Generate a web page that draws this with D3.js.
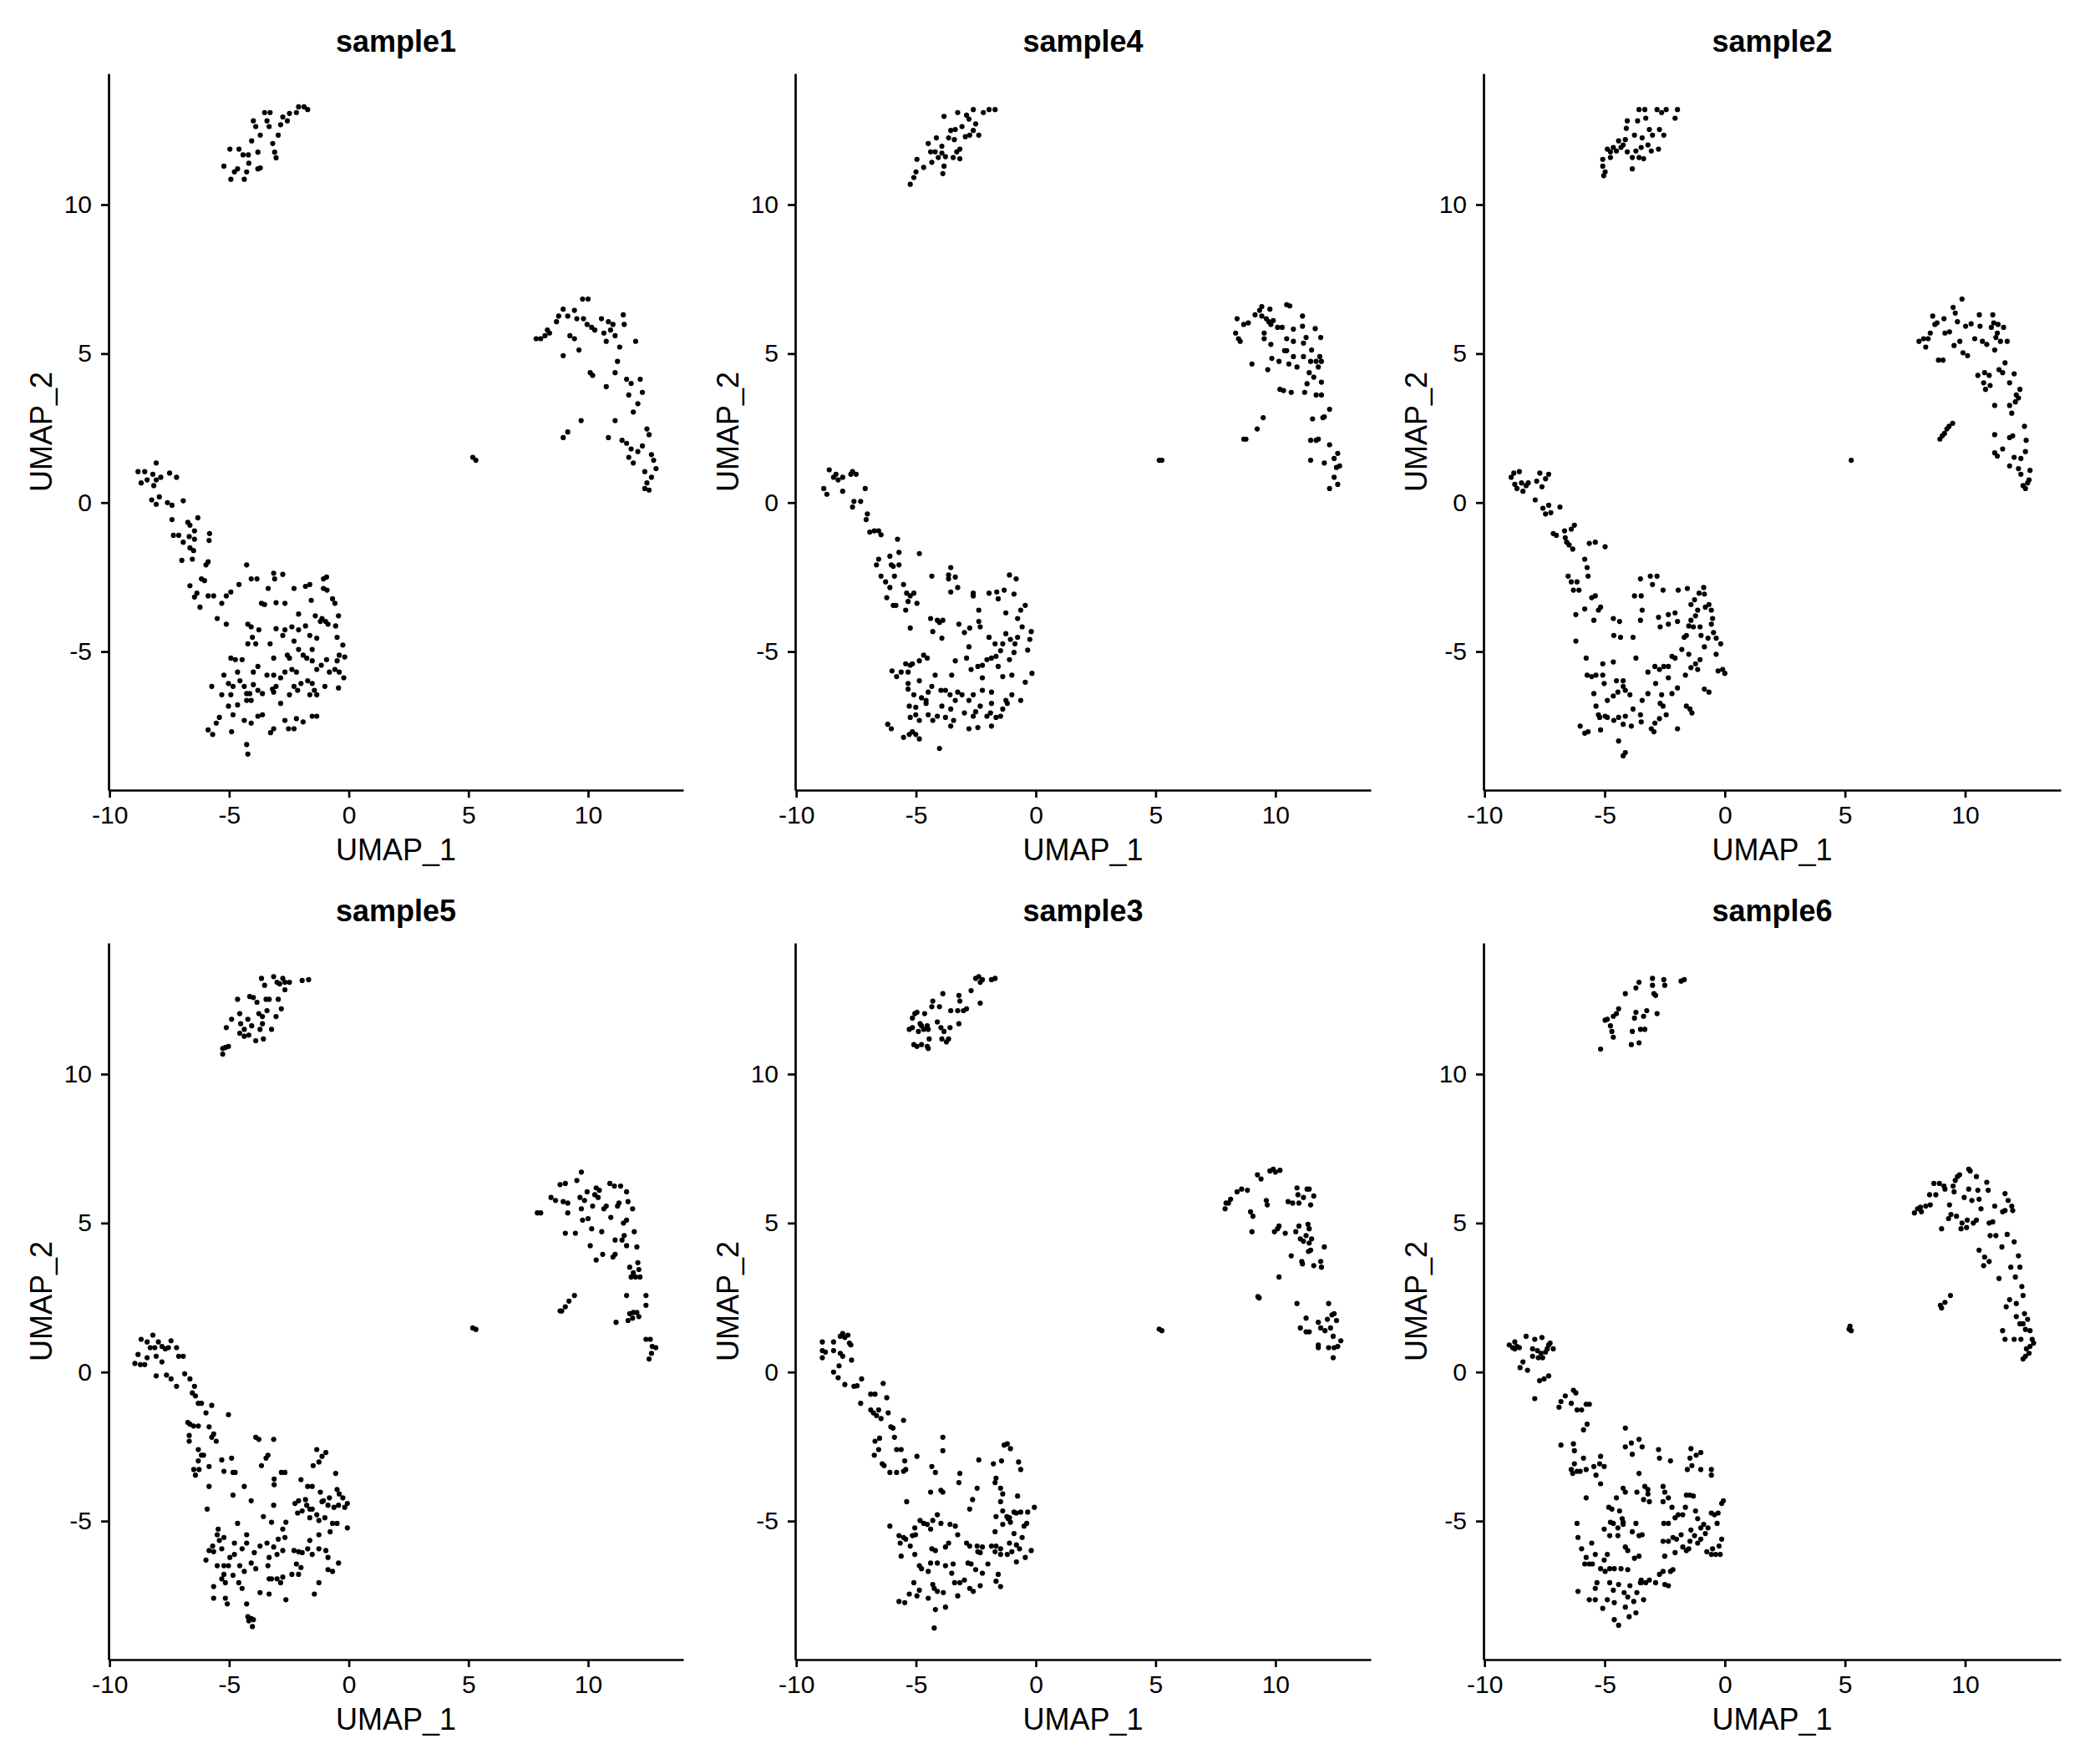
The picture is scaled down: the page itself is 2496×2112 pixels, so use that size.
<!DOCTYPE html>
<html>
<head>
<meta charset="utf-8">
<script src="https://cdn.jsdelivr.net/npm/d3@7"></script>
<style>
  body { margin: 0; background: #fff; }
  svg { display: block; }
  text { font-family: "Liberation Sans", Arial, Helvetica, sans-serif; }
</style>
</head>
<body>
<svg id="chart" width="2496" height="2112"></svg>
<script>
// Tick values and axis ranges (UMAP units)
const xTicks = [-10, -5, 0, 5, 10];
const yTicks = [-5, 0, 5, 10];
const xDomain = [-10.04, 13.98];
const yDomain = [-9.65, 14.4];

// Panel order as laid out in the grid (row by row)
const panelNames = ['sample1', 'sample4', 'sample2', 'sample5', 'sample3', 'sample6'];

// Cell embeddings per sample, [UMAP_1, UMAP_2]
const sample1 = [
  [-5.22,11.29],[-4.97,11.86],[-4.93,10.85],[-4.78,11.1],[-4.65,11.2],[-4.59,11.86],[-4.37,10.85],[-4.42,11.67],[-4.2,11.67],[-4.18,11.39],
  [-4.06,12.14],[-3.99,12.81],[-3.89,12.62],[-3.8,11.76],[-3.7,11.23],[-3.7,12.33],[-3.52,13.09],[-3.42,12.81],[-3.33,12.62],[-3.29,13.09],
  [-3.18,12.05],[-3.1,11.76],[-3.04,11.57],[-2.95,12.33],[-2.85,12.68],[-2.76,12.94],[-2.57,12.81],[-2.48,13.06],[-2.19,13.09],[-2.1,13.28],
  [-1.87,13.28],[-1.72,13.19],[-3.8,11.2],[-4.27,11.1],
  [7.83,5.5],[8.02,5.5],[8.2,5.6],[8.3,5.79],[8.39,5.69],[8.68,6.07],[8.77,6.26],[8.96,6.49],[8.96,4.93],[9.15,6.26],
  [9.24,5.6],[9.43,6.45],[9.43,5.5],[9.53,6.17],[9.62,5.12],[9.77,6.83],[9.81,6.17],[9.96,5.98],[10.0,6.83],[10.09,4.36],
  [10.19,4.27],[10.28,5.79],[10.56,6.17],[10.66,5.69],[10.76,3.89],[10.85,6.07],[10.94,5.79],[11.04,5.98],[11.13,5.6],[11.13,4.36],
  [11.23,4.74],[11.32,5.22],[11.47,6.3],[11.51,5.98],[11.61,4.14],[11.7,3.61],[11.8,4.0],[11.99,5.41],[12.08,3.32],[12.18,4.14],
  [12.27,3.7],[11.89,3.04],[12.46,2.47],[12.55,2.28],[12.27,1.9],[12.08,1.71],[11.8,1.8],[11.7,1.52],[11.61,1.99],[11.42,2.09],
  [10.85,2.18],[11.13,2.75],[9.71,2.75],[9.15,2.37],[8.96,2.18],[12.65,1.61],[12.74,1.42],[12.84,1.14],[12.65,0.85],[12.46,0.66],
  [12.37,0.47],[12.55,0.42],[12.37,1.04],[11.89,1.33],[10.76,5.41],[10.15,5.88],
  [5.18,1.52],[5.31,1.42],
  [-8.81,1.04],[-8.53,1.04],[-8.68,0.66],[-8.43,0.76],[-8.19,0.95],[-8.05,1.33],[-8.05,0.76],[-7.86,0.85],[-8.15,0.57],[-8.24,0.09],
  [-8.05,-0.06],[-7.92,0.19],[-7.49,0.99],[-7.2,0.85],[-7.58,0.0],[-7.39,-0.09],[-6.92,0.06],[-7.39,-0.57],[-6.73,-0.66],[-6.64,-0.76],
  [-6.31,-0.51],[-7.33,-1.1],[-7.11,-1.1],[-6.92,-1.33],[-6.67,-1.14],[-6.45,-0.95],[-6.45,-1.23],[-5.82,-1.04],[-5.84,-1.27],[-6.64,-1.52],
  [-6.49,-1.61],[-6.54,-1.9],[-6.98,-1.94],[-5.88,-1.99],[-5.97,-2.09],[-6.64,-2.79],[-6.16,-2.56],[-6.03,-2.62],[-6.35,-3.04],[-6.45,-3.17],
  [-6.22,-3.51],[-5.88,-3.13],[-5.65,-3.13],[-5.31,-3.38],[-5.12,-3.13],[-4.93,-3.0],[-5.5,-3.89],[-5.12,-4.08],[-4.59,-2.75],[-4.27,-2.09],
  [-4.08,-2.56],[-3.84,-2.56],[-3.65,-3.38],[-3.52,-3.42],[-3.37,-2.88],[-3.14,-2.37],[-3.1,-2.56],[-2.76,-2.41],[-3.04,-3.36],[-2.67,-3.38],
  [-2.29,-2.88],[-2.1,-3.74],[-1.81,-2.81],[-1.63,-2.75],[-1.57,-3.28],[-1.4,-3.8],[-1.06,-2.56],[-0.93,-2.5],[-1.06,-2.88],[-0.91,-2.94],
  [-0.68,-3.23],[-0.58,-3.38],[-0.43,-3.8],[-0.55,-4.14],[-1.12,-3.89],[-0.97,-3.99],[-0.87,-4.08],[-0.49,-4.52],[-0.25,-4.78],[-0.4,-5.12],
  [-0.17,-5.18],[-0.49,-5.31],[-0.58,-5.6],[-0.4,-5.69],[-0.21,-5.88],[-0.43,-6.22],[-0.93,-5.27],[-0.81,-5.69],[-1.0,-6.17],[-1.34,-5.6],
  [-1.53,-4.93],[-1.53,-5.31],[-1.34,-4.55],[-1.63,-4.46],[-1.81,-4.14],[-2.1,-4.27],[-2.38,-4.17],[-2.67,-4.27],[-2.76,-4.46],[-3.04,-4.23],
  [-2.29,-4.65],[-2.57,-5.12],[-3.14,-5.22],[-2.48,-5.22],[-2.67,-5.69],[-2.38,-5.6],[-2.19,-5.69],[-2.0,-6.07],[-1.72,-5.98],[-1.53,-6.07],
  [-1.44,-6.3],[-1.63,-6.45],[-1.34,-6.45],[-2.29,-6.17],[-2.14,-6.3],[-2.85,-5.88],[-3.04,-6.17],[-3.14,-6.36],[-3.42,-5.79],[-3.61,-6.41],
  [-3.8,-5.5],[-3.8,-6.3],[-3.99,-5.69],[-3.89,-4.74],[-3.76,-4.27],[-4.03,-4.52],[-4.22,-4.08],[-4.22,-4.74],[-4.46,-5.27],[-4.93,-5.22],
  [-4.74,-5.27],[-4.65,-5.69],[-5.22,-5.79],[-5.03,-6.07],[-4.93,-6.45],[-4.84,-6.17],[-5.31,-6.45],[-5.03,-6.83],[-4.65,-6.79],[-4.27,-6.64],
  [-4.27,-6.41],[-4.08,-6.64],[-3.99,-6.11],[-4.37,-6.17],[-5.73,-6.17],[-5.41,-7.21],[-5.54,-7.4],[-5.88,-7.63],[-5.69,-7.78],[-4.9,-7.69],
  [-4.84,-7.12],[-4.37,-7.31],[-4.08,-7.4],[-3.8,-7.17],[-3.61,-7.12],[-3.27,-7.72],[-3.14,-7.59],[-2.85,-6.74],[-2.67,-7.31],[-2.52,-7.59],
  [-2.29,-7.59],[-2.19,-7.25],[-1.91,-7.36],[-1.53,-7.17],[-1.34,-7.17],[-3.19,-6.26],[-4.27,-8.12],[-4.22,-8.44],[-2.1,-4.93],[-1.91,-5.12],
  [-3.29,-4.74],[-4.08,-4.17],[-4.14,-6.41],[-4.55,-5.98],[-3.14,-5.79],[-2.48,-6.45],[-1.76,-5.22],[-1.19,-3.99],[-1.15,-5.46]
];

const sample4 = [
  [-5.24,10.68],[-5.09,10.91],[-5.0,11.1],[-4.96,11.52],[-4.68,11.25],[-4.49,12.05],[-4.39,11.77],[-4.2,11.77],[-4.15,12.24],[-3.92,11.96],
  [-3.92,11.73],[-3.83,11.29],[-3.88,11.04],[-3.77,11.61],[-3.83,12.96],[-3.64,12.24],[-3.55,12.49],[-3.45,11.58],[-3.4,12.18],[-3.36,12.52],
  [-3.26,13.09],[-3.17,11.86],[-3.17,11.54],[-3.08,12.62],[-2.94,12.28],[-2.89,13.0],[-2.79,12.87],[-2.76,12.33],[-2.61,12.49],[-2.61,13.19],
  [-2.51,12.71],[-2.38,12.33],[-2.19,13.09],[-1.95,13.19],[-1.7,13.19],[-4.34,11.42],[-4.07,11.58],[-3.3,11.77],
  [8.4,6.17],[8.34,5.69],[8.46,5.5],[8.53,5.41],[8.68,5.98],[8.87,6.03],[9.02,4.65],[9.15,6.3],[9.34,6.45],[9.43,6.58],
  [9.43,6.26],[9.53,5.69],[9.53,5.5],[9.62,6.17],[9.72,6.07],[9.77,6.49],[9.81,5.98],[9.81,5.31],[9.85,4.84],[9.68,4.46],
  [9.91,6.11],[10.09,5.88],[10.15,4.74],[10.19,3.8],[10.34,3.76],[10.28,5.88],[10.38,5.1],[10.47,5.1],[10.56,4.65],[10.47,6.64],
  [10.6,6.6],[10.66,3.7],[10.75,5.82],[10.75,5.41],[10.75,4.9],[10.9,4.55],[11.13,6.26],[11.13,5.92],[11.17,5.35],[11.17,4.9],
  [11.22,3.7],[11.28,5.54],[11.32,3.99],[11.41,4.36],[11.47,4.74],[11.51,5.12],[11.6,4.21],[11.66,5.84],[11.7,4.74],[11.7,3.61],
  [11.79,4.55],[11.89,5.54],[11.92,3.61],[11.85,4.9],[11.92,4.04],[12.04,2.88],[12.26,3.13],[11.92,4.74],[11.55,2.81],[11.47,2.09],
  [11.7,2.09],[11.79,2.13],[11.47,1.42],[12.04,1.33],[12.26,1.94],[12.45,1.48],[12.55,1.18],[12.6,1.65],[12.68,1.23],[12.45,0.85],
  [12.6,0.61],[12.26,0.47],[11.98,2.85],[9.49,2.85],[9.24,2.47],[8.77,2.13],[8.68,2.13],[10.47,5.5],
  [5.26,1.42],[5.15,1.42],
  [-8.85,0.47],[-8.72,0.28],[-8.62,1.1],[-8.44,0.85],[-8.34,0.95],[-8.25,0.76],[-8.06,0.85],[-8.06,0.38],[-7.72,0.95],[-7.65,1.04],
  [-7.5,0.95],[-7.59,0.04],[-7.65,-0.15],[-7.31,0.04],[-7.12,0.47],[-7.03,-0.38],[-7.08,-0.57],[-6.93,-0.99],[-6.74,-0.95],[-6.56,-0.95],
  [-6.46,-1.08],[-6.65,-2.09],[-6.56,-1.9],[-6.46,-2.47],[-6.09,-1.8],[-6.03,-2.09],[-5.95,-2.14],[-5.77,-1.23],[-5.71,-1.67],[-5.71,-2.09],
  [-5.9,-2.47],[-6.27,-2.66],[-6.09,-2.85],[-5.52,-2.75],[-5.39,-3.04],[-5.24,-3.13],[-6.22,-3.19],[-5.95,-3.45],[-5.84,-3.45],[-5.33,-3.32],
  [-5.09,-3.04],[-4.96,-3.38],[-4.86,-1.71],[-4.34,-2.47],[-4.39,-3.89],[-4.11,-3.95],[-4.02,-4.02],[-3.88,-3.95],[-3.92,-4.55],[-4.3,-4.33],
  [-5.24,-4.21],[-5.43,-3.61],[-3.64,-2.43],[-3.55,-2.18],[-3.64,-2.56],[-3.36,-2.5],[-3.26,-2.85],[-3.55,-3.0],[-2.61,-3.04],[-2.61,-3.13],
  [-2.38,-3.61],[-1.95,-3.04],[-1.63,-3.0],[-1.57,-3.23],[-1.32,-2.94],[-1.25,-3.7],[-1.1,-2.43],[-0.82,-2.56],[-0.91,-3.07],[-0.63,-3.61],
  [-0.44,-3.45],[-0.76,-3.89],[-0.57,-4.17],[-0.19,-4.33],[-0.25,-4.59],[-0.34,-4.95],[-0.76,-4.52],[-0.87,-4.74],[-1.06,-4.59],[-1.25,-4.4],
  [-1.38,-4.74],[-1.47,-4.97],[-1.66,-5.16],[-1.7,-4.74],[-1.95,-4.52],[-1.85,-5.22],[-1.57,-5.5],[-1.38,-5.84],[-1.1,-5.27],[-0.91,-5.03],
  [-1.0,-5.79],[-0.44,-6.03],[-0.16,-5.73],[-0.63,-6.64],[-1.0,-6.45],[-1.19,-6.74],[-1.38,-6.93],[-1.25,-6.64],[-1.47,-7.17],[-1.85,-6.36],
  [-1.85,-6.74],[-1.89,-7.06],[-2.04,-7.17],[-1.85,-7.5],[-1.66,-7.21],[-2.23,-6.3],[-2.32,-6.83],[-2.51,-7.02],[-2.61,-7.17],[-2.42,-7.55],
  [-2.79,-7.59],[-2.61,-6.45],[-2.7,-5.6],[-2.42,-5.5],[-2.23,-5.46],[-2.89,-5.22],[-2.79,-4.84],[-2.98,-4.36],[-2.76,-4.21],[-2.38,-3.99],
  [-2.32,-4.17],[-1.95,-4.52],[-3.21,-4.08],[-3.36,-5.31],[-3.51,-5.79],[-3.58,-6.45],[-3.36,-6.64],[-3.26,-6.36],[-3.55,-6.93],[-3.43,-7.31],
  [-3.55,-7.5],[-3.77,-7.21],[-3.92,-6.83],[-3.96,-6.3],[-3.77,-6.3],[-4.2,-5.79],[-4.34,-6.17],[-4.49,-6.36],[-4.58,-6.64],[-4.3,-7.31],
  [-4.68,-5.12],[-4.53,-5.22],[-4.86,-5.31],[-5.24,-5.46],[-5.43,-5.41],[-5.33,-5.69],[-5.15,-5.41],[-5.62,-5.69],[-6.0,-5.65],[-5.81,-5.84],
  [-5.33,-6.07],[-5.33,-6.26],[-5.09,-6.45],[-4.86,-5.98],[-4.77,-6.55],[-5.01,-6.87],[-5.28,-6.83],[-5.24,-7.21],[-5.01,-7.12],[-4.86,-7.31],
  [-4.58,-6.74],[-4.49,-7.12],[-6.18,-7.44],[-6.03,-7.59],[-5.52,-7.88],[-5.28,-7.78],[-5.15,-7.69],[-5.01,-7.78],[-4.86,-7.93],[-4.02,-8.25],
  [-4.11,-7.17],[-3.08,-6.45],[-2.79,-6.64],[-2.98,-7.06],[-2.23,-5.88],[-2.04,-5.27]
];

const sample2 = [
  [-5.08,11.52],[-5.08,11.29],[-5.04,10.97],[-4.98,11.1],[-4.89,11.86],[-4.76,11.77],[-4.76,11.58],[-4.64,11.92],[-4.51,11.8],[-4.42,12.14],
  [-4.32,11.92],[-4.23,12.0],[-4.14,12.18],[-4.1,12.56],[-4.06,12.81],[-4.06,11.77],[-3.85,11.58],[-3.85,11.2],[-3.76,12.33],[-3.7,11.8],
  [-3.63,12.81],[-3.57,13.19],[-3.57,11.58],[-3.48,11.92],[-3.44,12.24],[-3.38,11.54],[-3.33,13.19],[-3.29,12.9],[-3.2,12.0],[-3.14,12.52],
  [-3.06,11.8],[-3.01,12.33],[-2.82,13.19],[-2.76,11.86],[-2.72,12.52],[-2.63,13.09],[-2.54,12.33],[-2.44,13.19],[-2.07,12.9],[-1.97,13.19],
  [8.08,5.41],[8.27,5.5],[8.36,5.22],[8.46,5.5],[8.55,5.69],[8.65,6.26],[8.74,5.98],[8.83,6.03],[8.89,4.78],[9.08,4.78],
  [9.12,6.17],[9.16,5.69],[9.35,5.73],[9.5,6.55],[9.54,5.27],[9.59,6.36],[9.68,6.07],[9.78,5.41],[9.87,6.83],[9.91,5.03],
  [10.02,5.92],[10.1,4.93],[10.25,6.0],[10.4,5.5],[10.59,6.3],[10.62,5.92],[10.53,4.27],[10.72,5.41],[10.77,4.02],[10.81,4.36],
  [10.85,3.8],[10.9,5.31],[11.0,4.27],[11.04,3.93],[11.09,5.88],[11.15,6.3],[11.19,6.03],[11.23,5.12],[11.23,3.26],[11.28,5.54],
  [11.34,5.69],[11.37,5.98],[11.41,4.46],[11.47,5.41],[11.56,4.36],[11.6,5.88],[11.66,4.69],[11.75,5.41],[11.85,4.02],[11.85,3.26],
  [11.94,3.0],[12.04,4.32],[12.09,3.38],[12.13,3.61],[12.22,3.51],[12.28,3.8],[11.23,2.28],[11.23,1.67],[11.34,1.56],[11.56,1.8],
  [11.85,2.18],[11.98,2.24],[11.85,1.23],[12.04,1.52],[12.22,1.14],[12.32,0.95],[12.41,0.57],[12.51,0.47],[12.6,0.66],[12.66,0.76],
  [12.7,1.08],[12.51,1.71],[12.54,2.09],[12.47,2.56],[12.32,1.48],[8.95,2.13],[9.05,2.24],[9.14,2.32],[9.24,2.47],[9.33,2.56],[9.48,2.66],
  [5.26,1.42],
  [-8.89,0.85],[-8.78,0.99],[-8.74,0.61],[-8.65,0.47],[-8.55,1.04],[-8.46,0.66],[-8.4,0.38],[-8.27,0.57],[-8.18,0.66],[-7.89,0.09],
  [-7.83,0.72],[-7.7,0.99],[-7.61,0.53],[-7.46,0.8],[-7.33,0.95],[-7.57,-0.19],[-7.46,-0.38],[-7.33,-0.09],[-7.24,-0.34],[-6.86,-0.15],
  [-7.14,-1.04],[-7.01,-1.1],[-6.67,-0.95],[-6.64,-1.18],[-6.58,-1.33],[-6.48,-1.42],[-6.33,-1.56],[-6.39,-0.89],[-6.26,-0.76],[-6.52,-2.47],
  [-6.39,-2.66],[-6.3,-2.94],[-6.15,-2.66],[-6.07,-2.94],[-5.83,-1.9],[-5.73,-2.18],[-5.69,-2.47],[-5.64,-1.37],[-5.39,-1.33],[-4.98,-1.48],
  [-6.2,-3.76],[-6.2,-4.65],[-5.83,-3.57],[-5.54,-3.19],[-5.39,-3.13],[-5.26,-3.61],[-5.17,-3.51],[-5.45,-3.95],[-4.64,-3.89],[-4.38,-3.99],
  [-4.62,-4.46],[-4.34,-4.52],[-3.82,-4.52],[-3.7,-5.22],[-3.76,-3.13],[-3.48,-3.13],[-3.44,-3.61],[-3.51,-3.95],[-3.51,-2.56],[-3.1,-2.47],
  [-3.01,-2.75],[-2.82,-2.47],[-2.57,-2.94],[-2.76,-3.85],[-2.69,-4.17],[-2.35,-3.76],[-2.35,-4.08],[-2.07,-3.7],[-1.97,-3.99],[-1.94,-2.94],
  [-1.56,-2.88],[-1.41,-3.42],[-1.26,-3.26],[-1.07,-3.04],[-0.88,-2.85],[-0.85,-3.07],[-1.13,-3.61],[-1.22,-3.8],[-1.41,-3.95],[-1.5,-4.14],
  [-1.6,-4.46],[-1.69,-4.52],[-1.31,-4.17],[-1.03,-4.17],[-0.81,-3.51],[-0.66,-3.42],[-0.56,-3.61],[-0.51,-3.89],[-0.56,-4.08],[-0.47,-4.36],
  [-0.7,-4.55],[-0.99,-4.46],[-0.17,-4.74],[-0.36,-5.09],[-0.85,-4.84],[-1.03,-5.27],[-1.22,-5.41],[-1.41,-5.54],[-1.13,-5.6],[-1.5,-5.09],
  [-1.64,-5.79],[-2.07,-5.22],[-2.35,-5.5],[-2.54,-5.5],[-2.72,-5.6],[-2.91,-5.5],[-3.2,-5.69],[-2.35,-5.88],[-2.88,-6.07],[-2.63,-6.45],
  [-2.2,-6.41],[-1.97,-6.22],[-1.6,-6.83],[-1.45,-6.93],[-0.85,-6.26],[-0.66,-6.36],[-0.28,-5.65],[0.0,-5.73],[-2.69,-6.74],[-2.57,-6.83],
  [-2.44,-7.12],[-2.72,-7.25],[-2.91,-7.4],[-3.06,-7.59],[-2.95,-7.69],[-3.2,-6.41],[-3.44,-6.64],[-3.51,-7.12],[-3.82,-6.93],[-3.95,-6.45],
  [-4.14,-6.3],[-4.23,-6.17],[-4.45,-6.36],[-4.64,-6.49],[-4.51,-5.98],[-4.23,-5.98],[-5.02,-6.07],[-4.89,-6.64],[-4.98,-7.17],[-4.89,-7.21],
  [-4.62,-7.31],[-4.42,-7.21],[-4.14,-7.17],[-3.89,-7.5],[-4.23,-7.44],[-4.42,-8.0],[-4.23,-8.5],[-4.14,-8.39],[-5.45,-6.41],[-5.36,-6.83],
  [-5.26,-7.12],[-5.21,-7.21],[-5.36,-5.79],[-5.08,-5.79],[-5.08,-5.41],[-4.64,-5.35],[-5.77,-5.22],[-5.73,-5.79],[-5.54,-5.84],[-6.02,-7.5],
  [-5.83,-7.74],[-5.69,-7.69],[-5.17,-7.63],[-3.48,-7.36],[-1.97,-7.59],[-1.37,-7.06],[-2.2,-5.16],[-1.79,-4.93],[-0.36,-4.55],[-0.09,-5.6]
];

const sample5 = [
  [-5.27,10.67],[-5.27,10.86],[-5.16,10.89],[-5.03,10.93],[-5.12,11.56],[-4.9,11.84],[-4.56,12.03],[-4.52,11.69],[-4.56,11.37],[-4.37,11.5],
  [-4.37,11.27],[-4.65,12.51],[-4.22,11.84],[-4.18,11.31],[-4.14,12.6],[-4.06,11.62],[-3.99,12.57],[-3.89,11.12],[-3.84,12.41],[-3.76,12.03],
  [-3.71,11.5],[-3.61,11.93],[-3.61,11.69],[-3.57,11.18],[-3.65,13.21],[-3.52,12.98],[-3.46,12.51],[-3.33,12.51],[-3.23,11.5],[-3.14,13.27],
  [-3.0,13.08],[-3.04,11.93],[-2.95,12.51],[-2.89,13.03],[-2.82,12.19],[-2.76,13.21],[-2.67,13.08],[-2.67,12.83],[-2.48,13.08],[-1.95,13.14],
  [-1.68,13.17],[-3.42,12.13],
  [7.88,5.34],[8.02,5.34],[8.45,5.86],[8.64,5.76],[8.83,6.29],[8.96,5.72],[9.05,4.66],[9.05,6.33],[9.15,5.67],[9.15,5.34],
  [9.47,4.66],[9.53,6.43],[9.66,5.86],[9.72,5.48],[9.72,6.71],[9.77,5.1],[9.85,5.76],[9.96,6.05],[10.0,5.15],[10.09,4.24],
  [10.15,4.81],[10.19,5.57],[10.28,5.95],[10.34,6.18],[10.34,3.76],[10.42,5.86],[10.47,6.1],[10.57,4.71],[10.61,3.95],[10.66,5.48],
  [10.76,5.57],[10.91,6.33],[10.95,5.19],[11.04,3.86],[11.1,6.24],[11.13,4.43],[11.13,3.95],[11.23,5.57],[11.29,5.67],[11.36,6.24],
  [11.42,4.43],[11.48,5.0],[11.51,4.58],[11.61,6.05],[11.61,4.24],[11.61,5.1],[11.67,5.72],[11.74,3.52],[11.8,3.19],[11.86,5.48],
  [11.89,3.33],[11.93,4.71],[11.99,3.19],[12.04,4.2],[12.08,3.67],[12.12,3.44],[12.17,3.19],[11.61,2.57],[12.04,2.0],[11.74,1.96],
  [11.86,1.81],[11.67,1.73],[11.89,2.0],[11.17,1.67],[12.12,1.86],[12.42,2.57],[12.42,2.24],[12.42,1.1],[12.6,1.1],[12.68,0.86],
  [12.83,0.82],[12.55,0.44],[12.65,0.63],[9.43,2.57],[9.2,2.38],[9.05,2.19],[8.9,2.05],[8.83,2.05],
  [5.18,1.48],[5.31,1.43],
  [-8.94,0.29],[-8.81,0.59],[-8.71,0.25],[-8.68,1.1],[-8.53,0.25],[-8.43,1.01],[-8.43,0.48],[-8.3,0.82],[-8.19,1.24],[-8.11,0.82],
  [-8.05,0.53],[-8.05,-0.13],[-7.96,1.01],[-7.81,0.86],[-7.81,0.34],[-7.67,0.78],[-7.62,-0.1],[-7.54,0.82],[-7.43,1.05],[-7.43,-0.23],
  [-7.2,0.82],[-7.2,-0.48],[-7.11,0.53],[-6.92,0.53],[-6.86,-0.06],[-6.64,-0.23],[-6.54,-0.7],[-6.45,-0.48],[-6.41,-0.8],[-6.29,-1.05],
  [-6.16,-1.05],[-6.73,-1.69],[-6.64,-1.75],[-6.49,-1.81],[-6.29,-1.81],[-5.97,-1.37],[-5.73,-1.12],[-5.84,-1.84],[-5.73,-2.19],[-5.65,-2.08],
  [-5.54,-2.32],[-6.67,-2.13],[-6.67,-2.32],[-6.29,-2.6],[-6.16,-2.79],[-6.29,-2.98],[-6.07,-2.79],[-6.48,-3.27],[-6.41,-3.46],[-6.26,-3.27],
  [-5.84,-3.17],[-5.84,-3.84],[-5.92,-4.6],[-5.31,-2.95],[-5.22,-3.33],[-5.03,-1.43],[-4.9,-2.89],[-4.84,-3.37],[-4.75,-3.37],[-4.84,-4.13],
  [-4.37,-3.84],[-4.08,-4.32],[-3.89,-2.19],[-3.76,-2.26],[-3.14,-2.26],[-3.65,-3.14],[-3.46,-2.89],[-3.38,-2.79],[-2.82,-3.37],[-2.67,-3.37],
  [-3.12,-3.59],[-3.12,-3.78],[-3.14,-4.47],[-3.23,-5.04],[-3.57,-4.85],[-2.0,-3.61],[-1.95,-4.66],[-2.25,-4.41],[-2.14,-4.73],[-2.1,-4.32],
  [-1.81,-4.28],[-1.72,-3.84],[-1.53,-3.84],[-1.76,-4.47],[-1.63,-4.6],[-1.63,-4.89],[-1.53,-4.6],[-1.49,-3.14],[-1.34,-2.6],[-1.25,-3.02],
  [-1.12,-2.83],[-0.96,-2.7],[-1.19,-4.03],[-1.12,-4.35],[-1.34,-4.79],[-1.25,-4.98],[-1.06,-4.32],[-1.0,-4.89],[-0.87,-4.47],[-0.81,-4.22],
  [-0.62,-4.54],[-0.49,-3.94],[-0.55,-3.4],[-0.4,-4.09],[-0.25,-4.22],[-0.06,-4.41],[-0.17,-4.54],[-0.43,-4.47],[-0.49,-5.08],[-0.68,-5.08],
  [-0.78,-5.36],[-0.06,-5.23],[-1.25,-5.46],[-1.63,-5.65],[-1.25,-5.93],[-0.96,-5.99],[-1.72,-5.93],[-1.53,-6.12],[-0.87,-6.22],[-0.43,-6.41],
  [-0.68,-6.69],[-0.87,-6.63],[-1.25,-7.07],[-1.44,-7.45],[-2.1,-6.03],[-1.95,-6.06],[-2.29,-5.99],[-2.19,-6.44],[-2.0,-6.56],[-2.1,-6.79],
  [-2.38,-6.79],[-2.63,-5.04],[-2.76,-5.27],[-2.67,-5.55],[-2.95,-5.61],[-2.76,-5.99],[-3.0,-6.12],[-3.14,-5.87],[-3.33,-6.22],[-3.42,-5.74],
  [-3.38,-6.5],[-3.33,-6.94],[-3.23,-6.94],[-3.0,-6.94],[-2.85,-7.07],[-2.76,-6.88],[-2.63,-7.64],[-3.33,-7.45],[-3.71,-7.4],[-3.89,-6.6],
  [-3.71,-5.84],[-3.95,-6.06],[-4.08,-6.41],[-4.37,-6.69],[-4.56,-6.5],[-4.27,-5.46],[-4.27,-5.74],[-4.46,-5.93],[-4.65,-5.08],[-4.78,-5.74],
  [-4.78,-6.12],[-4.97,-6.22],[-5.03,-6.5],[-5.22,-6.5],[-5.22,-6.79],[-5.31,-6.94],[-5.5,-6.5],[-5.16,-7.07],[-4.84,-6.82],[-4.6,-7.07],
  [-4.46,-7.26],[-5.5,-5.46],[-5.41,-5.65],[-5.22,-5.55],[-5.31,-5.93],[-5.46,-5.27],[-5.69,-5.84],[-5.84,-5.99],[-5.97,-6.31],[-5.65,-6.03],
  [-5.65,-7.2],[-5.65,-7.59],[-5.16,-7.59],[-5.08,-7.78],[-4.27,-7.78],[-4.22,-8.21],[-4.08,-8.27],[-3.99,-8.31],[-4.03,-8.54],[-4.18,-8.35]
];

const sample3 = [
  [-5.28,11.5],[-5.15,11.56],[-5.15,11.88],[-5.05,12.03],[-4.96,12.07],[-5.09,10.99],[-4.96,10.93],[-4.9,11.43],[-4.83,11.69],[-4.77,11.62],
  [-4.77,10.99],[-4.68,11.5],[-4.64,12.03],[-4.53,11.62],[-4.53,10.93],[-4.49,10.86],[-4.49,11.5],[-4.45,11.18],[-4.34,12.26],[-4.3,12.45],
  [-4.11,11.75],[-4.02,12.26],[-3.96,11.56],[-3.92,11.18],[-3.88,12.7],[-3.83,11.43],[-3.73,11.08],[-3.64,11.18],[-3.55,12.13],[-3.58,11.56],
  [-3.26,12.13],[-3.21,12.64],[-3.17,12.45],[-3.21,11.69],[-3.02,12.13],[-2.89,12.19],[-2.7,12.8],[-2.51,13.21],[-2.38,13.27],[-2.32,13.08],
  [-2.23,13.17],[-1.85,13.17],[-1.7,13.21],[-2.32,12.38],
  [7.9,5.48],[7.94,5.67],[8.04,5.67],[8.13,5.8],[8.4,6.05],[8.59,6.14],[8.83,6.1],[8.96,5.38],[9.06,5.23],[9.02,4.71],
  [9.25,6.62],[9.4,6.48],[9.62,5.76],[9.66,5.61],[9.77,6.75],[9.91,6.81],[9.96,4.71],[10.0,6.71],[10.09,4.81],[10.15,4.9],
  [10.19,6.77],[10.15,3.19],[10.41,4.66],[10.53,5.72],[10.66,3.9],[10.72,5.67],[10.85,4.71],[10.9,6.18],[10.94,5.95],[10.98,5.67],
  [10.98,4.9],[11.04,4.47],[11.1,3.71],[11.13,3.63],[11.17,4.39],[11.28,4.58],[11.32,6.14],[11.41,6.14],[11.41,4.81],[11.36,4.96],
  [11.38,4.05],[11.47,4.09],[11.51,4.47],[11.41,4.33],[11.6,3.57],[11.6,5.91],[11.47,5.61],[11.89,3.71],[11.92,3.52],[12.04,4.2],
  [11.17,5.86],[9.27,2.53],[9.32,2.49],[10.9,2.3],[11.04,1.48],[11.28,1.81],[11.28,1.35],[11.41,1.35],[11.79,1.67],[11.89,1.48],
  [11.79,0.91],[11.79,0.82],[12.07,1.39],[12.22,0.82],[12.3,1.48],[12.22,2.3],[12.36,1.92],[12.41,1.2],[12.45,1.96],[12.55,1.73],
  [12.6,0.86],[12.41,0.48],[12.45,0.82],[12.73,1.05],[12.17,1.77],
  [5.15,1.44],[5.26,1.39],
  [-8.91,1.01],[-8.91,0.48],[-8.91,0.72],[-8.78,0.67],[-8.44,1.01],[-8.44,0.72],[-8.16,1.2],[-8.06,1.29],[-7.97,1.16],[-7.84,1.24],
  [-7.78,0.97],[-7.72,0.91],[-8.16,0.63],[-8.06,0.53],[-7.69,0.4],[-8.21,0.21],[-8.44,0.0],[-8.25,-0.19],[-7.97,-0.42],[-7.59,-0.48],
  [-7.46,-0.46],[-7.27,-0.23],[-7.31,-1.05],[-6.89,-0.74],[-6.78,-1.37],[-6.89,-1.27],[-6.71,-0.74],[-6.65,-1.46],[-6.56,-1.27],[-6.37,-0.38],
  [-6.22,-0.86],[-6.46,-1.56],[-6.16,-1.37],[-6.05,-1.84],[-5.96,-1.88],[-5.52,-1.62],[-6.71,-2.32],[-6.52,-2.22],[-6.74,-2.79],[-6.56,-2.6],
  [-6.41,-3.08],[-6.33,-3.14],[-5.9,-2.19],[-5.81,-2.6],[-5.62,-2.6],[-5.47,-2.98],[-6.09,-3.37],[-5.81,-3.37],[-5.52,-3.33],[-5.43,-3.27],
  [-4.96,-2.83],[-5.39,-4.35],[-4.34,-3.17],[-4.19,-3.37],[-3.88,-2.19],[-3.88,-2.64],[-4.39,-4.03],[-3.96,-3.97],[-3.88,-4.03],[-3.17,-3.4],
  [-3.21,-3.71],[-2.76,-4.6],[-2.64,-4.28],[-2.45,-3.9],[-2.38,-2.95],[-1.77,-3.08],[-1.7,-3.71],[-1.66,-3.56],[-1.47,-3.9],[-1.43,-2.98],
  [-1.32,-2.45],[-1.19,-2.41],[-1.06,-2.57],[-0.72,-3.02],[-0.63,-3.27],[-1.38,-4.09],[-1.47,-4.35],[-1.38,-4.66],[-0.76,-4.16],[-0.91,-4.7],
  [-0.81,-4.73],[-0.63,-4.7],[-0.34,-4.7],[-0.06,-4.54],[-1.1,-4.89],[-1.15,-4.92],[-1.21,-4.85],[-1.66,-4.85],[-1.7,-5.36],[-1.38,-5.11],
  [-1.06,-5.04],[-0.49,-5.17],[-0.38,-5.08],[-0.57,-5.55],[-0.91,-5.42],[-1.1,-5.74],[-0.81,-5.8],[-1.0,-6.03],[-0.68,-5.93],[-0.19,-5.99],
  [-0.44,-6.22],[-0.81,-6.37],[-1.19,-6.12],[-1.47,-5.93],[-1.47,-6.12],[-1.66,-5.84],[-1.85,-5.84],[-1.7,-6.03],[-1.57,-6.79],[-1.47,-7.2],
  [-1.66,-7.02],[-2.0,-6.44],[-2.23,-5.87],[-2.32,-6.06],[-2.45,-5.84],[-2.42,-6.03],[-2.23,-6.75],[-2.32,-7.17],[-2.61,-7.36],[-2.76,-5.84],
  [-2.83,-6.41],[-2.7,-6.44],[-2.51,-6.63],[-2.98,-6.98],[-3.17,-7.07],[-2.76,-7.26],[-3.26,-7.51],[-2.89,-5.74],[-3.36,-5.17],[-3.26,-5.46],
  [-3.58,-5.11],[-3.64,-5.74],[-3.45,-6.44],[-3.51,-6.75],[-3.39,-7.07],[-3.77,-5.87],[-3.77,-6.5],[-3.96,-5.08],[-4.11,-4.79],[-4.3,-4.98],
  [-4.39,-5.27],[-4.53,-5.11],[-4.68,-5.08],[-4.83,-4.98],[-5.05,-5.23],[-5.02,-5.46],[-5.15,-5.49],[-5.43,-5.61],[-5.52,-5.55],[-5.71,-5.49],
  [-5.66,-5.74],[-5.62,-6.18],[-6.09,-5.17],[-5.24,-5.84],[-5.05,-6.12],[-4.86,-6.5],[-4.77,-6.6],[-4.49,-6.69],[-4.39,-6.41],[-4.34,-5.93],
  [-4.19,-5.99],[-4.11,-6.41],[-4.3,-7.13],[-4.24,-7.26],[-4.11,-7.36],[-3.86,-7.4],[-4.86,-7.32],[-4.96,-7.51],[-5.28,-7.45],[-5.09,-7.07],
  [-4.49,-7.59],[-5.71,-7.7],[-5.47,-7.74],[-4.19,-7.97],[-4.24,-8.59],[-3.77,-7.89]
];

const sample6 = [
  [-5.17,10.84],[-4.98,11.81],[-4.89,11.84],[-4.76,11.62],[-4.7,11.43],[-4.64,11.24],[-4.64,11.94],[-4.51,12.03],[-4.42,12.19],[-4.14,12.7],
  [-3.89,10.99],[-3.85,11.43],[-3.76,11.88],[-3.7,12.07],[-3.7,12.89],[-3.57,13.08],[-3.57,11.05],[-3.51,11.5],[-3.33,11.5],[-3.38,11.94],
  [-3.25,12.13],[-3.01,13.21],[-3.01,12.98],[-2.95,12.7],[-2.88,12.64],[-2.82,12.03],[-2.54,13.17],[-2.5,12.98],[-1.82,13.12],[-1.69,13.17],
  [7.89,5.34],[8.02,5.48],[8.14,5.53],[8.18,5.38],[8.36,5.57],[8.55,5.61],[8.52,5.95],[8.7,6.33],[8.78,5.95],[8.93,6.33],
  [9.02,4.81],[9.12,6.24],[9.16,6.14],[9.31,5.15],[9.35,5.61],[9.41,5.29],[9.5,6.24],[9.54,6.05],[9.59,6.43],[9.64,5.23],
  [9.68,6.56],[9.77,6.62],[9.83,4.81],[9.87,5.0],[9.96,5.86],[10.06,4.85],[10.09,5.1],[10.15,6.14],[10.15,6.81],[10.21,6.75],
  [10.28,5.76],[10.34,5.0],[10.47,5.1],[10.47,6.56],[10.58,4.09],[10.53,6.1],[10.58,5.8],[10.66,5.48],[10.77,3.57],[10.81,3.86],
  [10.9,6.37],[10.96,6.1],[11.0,3.71],[11.0,5.0],[11.04,4.58],[11.15,5.04],[11.23,5.57],[11.28,4.58],[11.41,3.14],[11.53,4.2],
  [11.56,5.38],[11.66,5.99],[11.66,5.42],[11.75,4.62],[11.79,5.76],[11.9,3.52],[11.94,5.57],[11.98,5.42],[12.04,4.37],[12.09,3.19],
  [12.22,3.9],[12.28,3.52],[12.36,2.87],[12.41,2.57],[11.85,2.43],[11.71,2.19],[12.13,2.3],[12.13,1.86],[12.28,1.62],[12.41,1.62],
  [12.47,1.96],[12.6,1.77],[12.51,1.43],[12.7,1.39],[12.79,1.1],[12.85,0.97],[12.7,0.86],[12.55,0.78],[12.41,0.44],[12.51,0.53],
  [12.66,0.63],[11.56,1.39],[11.66,1.1],[12.04,1.1],[12.32,1.1],[9.39,2.57],[9.16,2.34],[9.02,2.15],[8.97,2.24],
  [5.17,1.44],[5.26,1.39],[5.21,1.54],
  [-8.97,0.91],[-8.83,0.82],[-8.74,1.01],[-8.74,0.78],[-8.65,0.86],[-8.55,0.82],[-8.52,0.15],[-8.4,0.34],[-8.27,1.2],[-8.21,0.06],
  [-8.0,0.78],[-8.0,0.53],[-7.91,1.1],[-7.8,0.72],[-7.76,0.48],[-7.71,-0.29],[-7.65,0.63],[-7.61,1.16],[-7.58,0.48],[-7.46,0.67],
  [-7.39,0.78],[-7.33,0.91],[-7.27,0.97],[-7.14,0.78],[-7.52,-0.23],[-7.33,-0.13],[-7.91,-0.89],[-6.9,-1.18],[-6.82,-0.99],[-6.64,-0.8],
  [-6.39,-1.05],[-6.3,-0.61],[-6.2,-0.7],[-6.15,-1.27],[-5.96,-1.27],[-5.77,-1.08],[-5.64,-1.08],[-5.73,-1.75],[-5.88,-1.94],[-6.82,-2.45],
  [-6.3,-2.41],[-6.26,-2.64],[-6.39,-3.27],[-6.33,-3.4],[-6.26,-3.08],[-6.15,-3.33],[-6.02,-3.33],[-5.88,-2.89],[-5.77,-3.27],[-5.77,-4.22],
  [-5.45,-3.17],[-5.36,-3.46],[-5.17,-2.83],[-5.21,-3.08],[-5.17,-3.75],[-5.02,-3.17],[-4.14,-1.88],[-4.14,-2.51],[-3.89,-2.38],[-3.57,-2.26],
  [-3.44,-2.51],[-3.85,-2.76],[-3.57,-3.4],[-3.33,-3.84],[-3.2,-3.94],[-3.66,-4.03],[-4.23,-3.9],[-4.14,-4.03],[-4.51,-4.22],[-4.38,-4.66],
  [-4.27,-4.92],[-4.23,-5.04],[-4.7,-4.6],[-4.83,-4.54],[-4.76,-5.04],[-5.02,-5.27],[-4.45,-5.23],[-4.45,-5.49],[-4.14,-5.87],[-4.04,-5.99],
  [-3.7,-5.08],[-3.57,-5.49],[-3.44,-5.46],[-3.38,-4.28],[-3.14,-4.35],[-2.76,-2.6],[-2.72,-2.89],[-2.57,-3.84],[-2.5,-4.03],[-2.57,-4.35],
  [-2.35,-4.22],[-2.26,-2.98],[-2.2,-4.54],[-2.07,-4.89],[-2.35,-5.08],[-2.54,-5.08],[-1.94,-4.79],[-1.75,-4.79],[-1.64,-4.54],[-1.6,-4.13],
  [-1.45,-4.13],[-1.31,-4.16],[-1.22,-4.66],[-1.56,-3.27],[-1.37,-3.14],[-1.45,-2.89],[-1.41,-2.57],[-1.19,-2.79],[-1.0,-2.7],[-1.0,-3.27],
  [-0.56,-3.27],[-0.56,-3.46],[-1.13,-4.92],[-1.0,-5.23],[-0.88,-5.11],[-0.81,-5.42],[-0.56,-4.73],[-0.43,-4.79],[-0.28,-4.73],[-0.13,-4.41],
  [-0.06,-4.32],[-0.32,-5.08],[-0.7,-5.23],[-0.13,-5.61],[-0.24,-5.84],[-0.38,-6.12],[-0.19,-6.12],[-0.56,-6.12],[-0.51,-5.93],[-0.75,-6.03],
  [-1.0,-5.61],[-1.13,-5.74],[-1.26,-5.49],[-1.41,-5.3],[-1.5,-5.93],[-1.6,-5.99],[-1.45,-5.68],[-1.75,-5.87],[-1.82,-5.46],[-2.01,-5.61],
  [-2.16,-5.55],[-2.35,-5.68],[-2.57,-5.68],[-2.5,-6.18],[-2.07,-6.06],[-2.16,-6.63],[-2.26,-6.69],[-2.57,-6.69],[-2.72,-6.79],[-2.5,-7.13],
  [-2.35,-7.17],[-2.88,-7.07],[-3.14,-6.98],[-3.29,-7.07],[-3.48,-6.98],[-3.51,-7.07],[-3.66,-7.4],[-3.38,-7.64],[-3.79,-7.7],[-4.04,-7.55],
  [-4.14,-7.89],[-3.98,-8.21],[-3.7,-8.08],[-4.19,-7.4],[-4.42,-7.13],[-4.64,-7.32],[-4.6,-7.74],[-4.89,-7.64],[-5.08,-7.93],[-4.6,-8.31],
  [-4.42,-8.5],[-4.79,-7.07],[-5.32,-7.07],[-5.39,-7.26],[-5.64,-7.64],[-5.39,-7.64],[-6.11,-7.36],[-4.6,-6.6],[-4.32,-6.6],[-4.04,-6.63],
  [-3.76,-6.25],[-3.57,-6.18],[-3.48,-7.07],[-3.95,-7.17],[-5.02,-6.31],[-4.79,-6.6],[-5.17,-6.6],[-5.51,-6.44],[-5.64,-6.44],[-5.83,-6.44],
  [-5.77,-6.22],[-5.96,-5.93],[-6.11,-5.55],[-6.15,-5.08],[-5.54,-5.74],[-5.39,-6.12],[-4.89,-6.12],[-4.79,-5.49],[-4.64,-5.08],[-4.23,-5.11],
  [-3.85,-5.36],[-3.2,-4.09],[-4.98,-6.69]
];

const sampleData = { sample1, sample2, sample3, sample4, sample5, sample6 };

// Grid geometry (pixels)
const panelLeft = [130, 952, 1776];
const panelWidth = [688, 689, 691];
const panelTop = [88, 1129];
const panelHeight = 858;

const svg = d3.select('#chart');

panelNames.forEach((name, i) => {
  const col = i % 3;
  const row = Math.floor(i / 3);
  const w = panelWidth[col];
  const h = panelHeight;

  const g = svg.append('g')
    .attr('transform', `translate(${panelLeft[col]},${panelTop[row]})`);

  const x = d3.scaleLinear().domain(xDomain).range([0, w]);
  const y = d3.scaleLinear().domain(yDomain).range([h, 0]);

  // Points
  g.append('g')
    .selectAll('circle')
    .data(sampleData[name])
    .enter()
    .append('circle')
    .attr('cx', d => x(d[0]))
    .attr('cy', d => y(d[1]))
    .attr('r', 3.1)
    .attr('fill', '#000');

  // Axes
  const xAxis = g.append('g')
    .attr('transform', `translate(0,${h})`)
    .call(d3.axisBottom(x).tickValues(xTicks).tickSize(9).tickSizeOuter(0).tickPadding(10).tickFormat(d3.format('d')));

  const yAxis = g.append('g')
    .call(d3.axisLeft(y).tickValues(yTicks).tickSize(9).tickSizeOuter(0).tickPadding(11).tickFormat(d3.format('d')));

  [xAxis, yAxis].forEach(ax => {
    ax.attr('font-family', null).attr('font-size', null);
    ax.select('.domain').attr('stroke', '#000').attr('stroke-width', 2.7);
    ax.selectAll('.tick line').attr('stroke', '#000').attr('stroke-width', 2.7);
    ax.selectAll('.tick text')
      .attr('fill', '#000')
      .style('font-size', '30px')
      .text(d => d < 0 ? '-' + Math.abs(d) : d);
  });

  // Panel title
  g.append('text')
    .attr('x', w / 2)
    .attr('y', -26.5)
    .attr('text-anchor', 'middle')
    .style('font-size', '36px')
    .style('font-weight', 'bold')
    .text(name);

  // Axis titles
  g.append('text')
    .attr('x', w / 2)
    .attr('y', h + 84)
    .attr('text-anchor', 'middle')
    .style('font-size', '36px')
    .text('UMAP_1');

  g.append('text')
    .attr('transform', 'rotate(-90)')
    .attr('x', -h / 2)
    .attr('y', -68)
    .attr('text-anchor', 'middle')
    .style('font-size', '36px')
    .text('UMAP_2');
});
</script>
</body>
</html>
